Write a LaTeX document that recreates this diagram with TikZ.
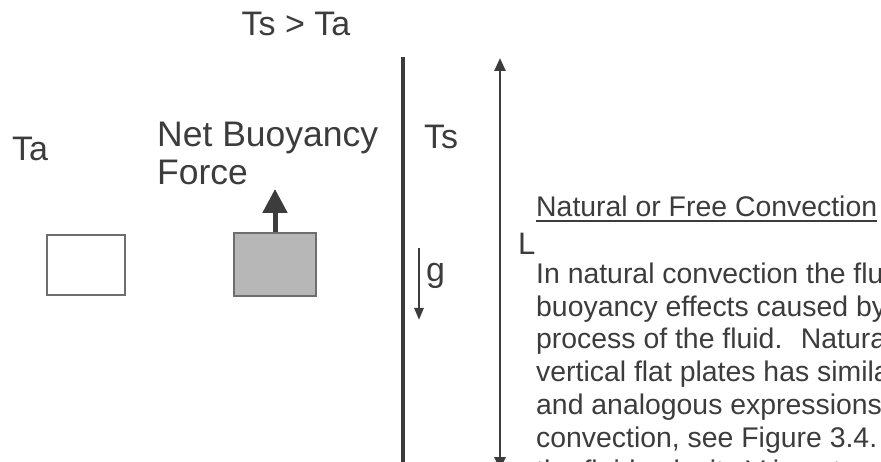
\documentclass[tikz,border=0pt]{standalone}
\usepackage{fontspec}
\setmainfont{Liberation Sans}
\usetikzlibrary{positioning,arrows.meta}
\definecolor{ink}{HTML}{3C3C3C}
\definecolor{parcel}{HTML}{B7B7B7}
\definecolor{rim}{HTML}{6E6E6E}
\tikzset{
  big/.style={font=\fontsize{34}{38}\selectfont,text=ink,inner sep=0pt},
  body/.style={font=\fontsize{28.4}{32.8}\selectfont,text=ink,inner sep=0pt,align=left},
  parcelbox/.style={draw=rim,line width=1.5pt,minimum width=78pt,minimum height=60pt,inner sep=0pt},
  plate/.style={ink,line width=4pt},
  lenarrow/.style={{Triangle[length=13pt,width=11pt]}-{Triangle[length=13pt,width=11pt]},ink,line width=2.5pt},
  lift/.style={-{Triangle[length=24pt,width=24pt]},ink,line width=5pt},
  grav/.style={-{Triangle[length=12pt,width=9pt]},ink,line width=2.5pt},
}

\begin{document}
\begin{tikzpicture}[x=1pt,y=-1pt]
  \useasboundingbox (0,0) rectangle (881,462);
  \clip (0,0) rectangle (881,462);
  % temperatures
  \node[big,anchor=base] (cond) at (296,36) {Ts > Ta};
  \node[big,anchor=base west] (ta) at (12,161) {Ta};
  \node[big,anchor=base west] (ts) at (424,149) {Ts};
  % the two fluid parcels
  \node[parcelbox] (cold) at (86,265) {};
  \node[parcelbox,fill=parcel,minimum width=82pt,minimum height=63pt] (warm) at (275,264.5) {};
  \node[big,font=\fontsize{35.5}{38}\selectfont,align=left,anchor=base west] (net) at (157,185) {Net Buoyancy\\Force};
  \coordinate (liftTip) at (275,189);
  \draw[lift] (warm.north) -- (liftTip);
  % heated plate and its length
  \coordinate (plateTop) at (403,57);
  \coordinate (plateBot) at (403,470);
  \draw[plate] (plateTop) -- (plateBot);
  \coordinate (gTop) at (419,248);
  \coordinate (gBot) at (419,320);
  \draw[grav] (gTop) -- (gBot);
  \node[big,anchor=base west] (g) at (426,282) {g};
  \coordinate (lenTop) at (500,58);
  \coordinate (lenBot) at (500,470);
  \draw[lenarrow] (lenTop) -- (lenBot);
  \node[font=\fontsize{31}{34}\selectfont,text=ink,inner sep=0pt,anchor=base west] (len) at (518,255) {L};
  % notes
  \node[body,anchor=base west] (head) at (536,217) {Natural or Free Convection};
  \draw[ink,line width=2pt] ([yshift=-4pt]head.south west) -- ([yshift=-4pt]head.south east);
  \node[body,anchor=base west] (notes) at (536,480)
    {In natural convection the fluid\\
     buoyancy effects caused by the\\
     process of the fluid.~ Natural\\
     vertical flat plates has similar\\
     and analogous expressions\\
     convection, see Figure 3.4.\\
     the fluid velocity V is not};
\end{tikzpicture}
\end{document}
